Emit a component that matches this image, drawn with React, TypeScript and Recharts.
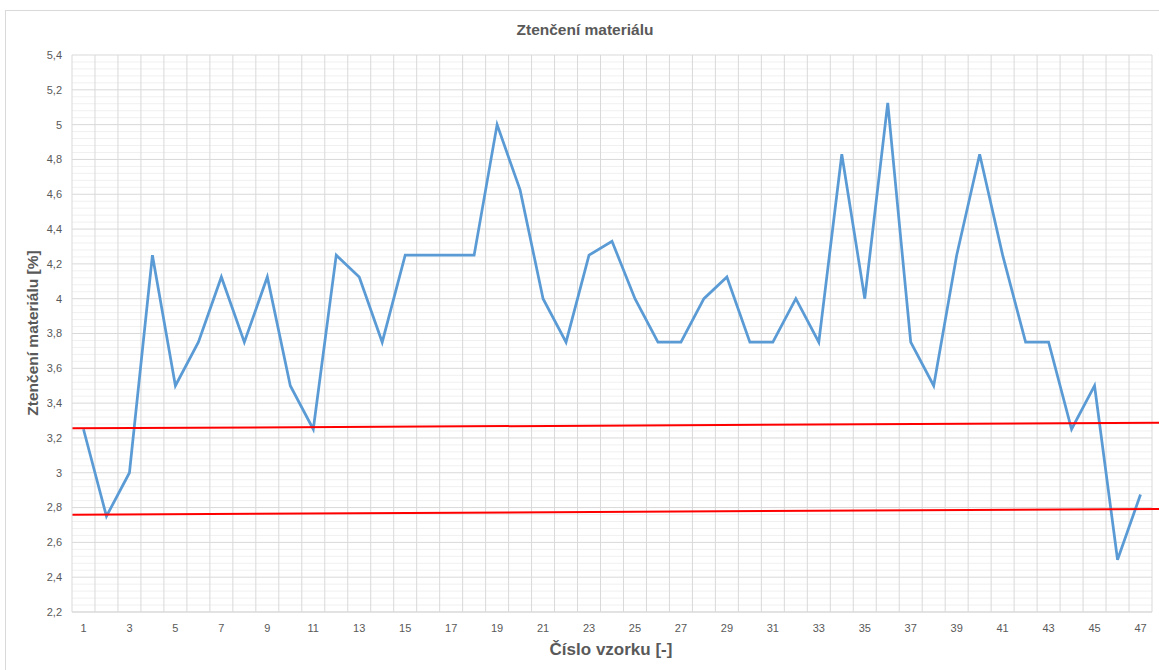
import React from 'react';
import { LineChart, Line, XAxis, YAxis, ReferenceLine, CartesianGrid } from 'recharts';

const sampleNumbers = [
  1, 2, 3, 4, 5, 6, 7, 8, 9, 10, 11, 12, 13, 14, 15, 16, 17, 18, 19, 20, 21, 22, 23, 24,
  25, 26, 27, 28, 29, 30, 31, 32, 33, 34, 35, 36, 37, 38, 39, 40, 41, 42, 43, 44, 45, 46, 47,
];

const thinning = [
  3.25, 2.75, 3, 4.25, 3.5, 3.75, 4.125, 3.75, 4.125, 3.5, 3.25, 4.25, 4.125, 3.75, 4.25, 4.25,
  4.25, 4.25, 5, 4.625, 4, 3.75, 4.25, 4.33, 4, 3.75, 3.75, 4, 4.125, 3.75, 3.75, 4, 3.75, 4.83,
  4, 5.125, 3.75, 3.5, 4.25, 4.83, 4.25, 3.75, 3.75, 3.25, 3.5, 2.5, 2.875,
];

const xTicks = [1, 3, 5, 7, 9, 11, 13, 15, 17, 19, 21, 23, 25, 27, 29, 31, 33, 35, 37, 39, 41, 43, 45, 47];
const yTicks = [2.2, 2.4, 2.6, 2.8, 3, 3.2, 3.4, 3.6, 3.8, 4, 4.2, 4.4, 4.6, 4.8, 5, 5.2, 5.4];

// red limit lines (start / end x, y)
const upperLimitX = [0.5, 47.9];
const upperLimitY = [3.255, 3.287];
const lowerLimitX = [0.5, 47.9];
const lowerLimitY = [2.759, 2.792];

const data = sampleNumbers.map((s, i) => ({ sample: s, value: thinning[i] }));

const minorYs: number[] = [];
for (let k = 0; k < yTicks.length - 1; k++) {
  for (let j = 1; j < 5; j++) minorYs.push(yTicks[k] + ((yTicks[k + 1] - yTicks[k]) * j) / 5);
}
const boundaries = sampleNumbers.map((s) => s + 0.5);

const fmt = (v: number) => String(Math.round(v * 10) / 10).replace('.', ',');

const FONT = '"Liberation Sans", Arial, sans-serif';
const TXT = '#595959';

export default function App() {
  return (
    <div
      style={{
        position: 'absolute',
        left: 0,
        top: 0,
        width: 1159,
        height: 670,
        overflow: 'hidden',
        background: '#fff',
        fontFamily: FONT,
      }}
    >
      <div
        style={{
          position: 'absolute',
          left: 5,
          top: 10,
          width: 1200,
          height: 700,
          border: '1px solid #d9d9d9',
          boxSizing: 'border-box',
        }}
      />
      <div style={{ position: 'absolute', left: 0, top: 0 }}>
        <LineChart
          width={1159}
          height={670}
          data={data}
          margin={{ top: 55, right: 7, bottom: 28, left: 32 }}
        >
          {minorYs.map((v, i) => (
            <ReferenceLine key={'m' + i} y={v} stroke="#f0f0f0" strokeWidth={1} />
          ))}
          <CartesianGrid stroke="#d9d9d9" vertical={false} />
          {boundaries.map((b, i) => (
            <ReferenceLine key={'v' + i} x={b} stroke="#d9d9d9" strokeWidth={1} />
          ))}
          <XAxis
            dataKey="sample"
            type="number"
            domain={[0.5, 47.5]}
            ticks={xTicks}
            interval={0}
            allowDataOverflow
            axisLine={{ stroke: '#d9d9d9' }}
            tickLine={false}
            tickSize={0}
            tickMargin={12}
            height={30}
            tick={{ fill: TXT, fontSize: 11, fontFamily: FONT }}
          />
          <YAxis
            type="number"
            domain={[2.2, 5.4]}
            ticks={yTicks}
            interval={0}
            allowDataOverflow
            tickFormatter={fmt}
            axisLine={{ stroke: '#d9d9d9' }}
            tickLine={false}
            tickSize={0}
            tickMargin={10}
            width={40}
            tick={{ fill: TXT, fontSize: 11, fontFamily: FONT }}
          />
          <Line
            type="linear"
            dataKey="value"
            stroke="#5b9bd5"
            strokeWidth={2.75}
            dot={false}
            activeDot={false}
            isAnimationActive={false}
          />
          <ReferenceLine
            segment={[
              { x: upperLimitX[0], y: upperLimitY[0] },
              { x: upperLimitX[1], y: upperLimitY[1] },
            ]}
            stroke="#ff0000"
            strokeWidth={2}
            ifOverflow="visible"
          />
          <ReferenceLine
            segment={[
              { x: lowerLimitX[0], y: lowerLimitY[0] },
              { x: lowerLimitX[1], y: lowerLimitY[1] },
            ]}
            stroke="#ff0000"
            strokeWidth={2}
            ifOverflow="visible"
          />
        </LineChart>
      </div>
      <svg
        width={1159}
        height={670}
        style={{ position: 'absolute', left: 0, top: 0, pointerEvents: 'none' }}
      >
        <text
          x={585}
          y={29}
          textAnchor="middle"
          dominantBaseline="central"
          fill={TXT}
          fontSize={15.5}
          fontWeight="bold"
          fontFamily={FONT}
        >
          Ztenčení materiálu
        </text>
        <text
          x={611}
          y={649}
          textAnchor="middle"
          dominantBaseline="central"
          fill={TXT}
          fontSize={17}
          fontWeight="bold"
          fontFamily={FONT}
        >
          Číslo vzorku [-]
        </text>
        <text
          x={32}
          y={333}
          transform="rotate(-90 32 333)"
          textAnchor="middle"
          dominantBaseline="central"
          fill={TXT}
          fontSize={15.5}
          fontWeight="bold"
          fontFamily={FONT}
        >
          Ztenčení materiálu [%]
        </text>
      </svg>
    </div>
  );
}
